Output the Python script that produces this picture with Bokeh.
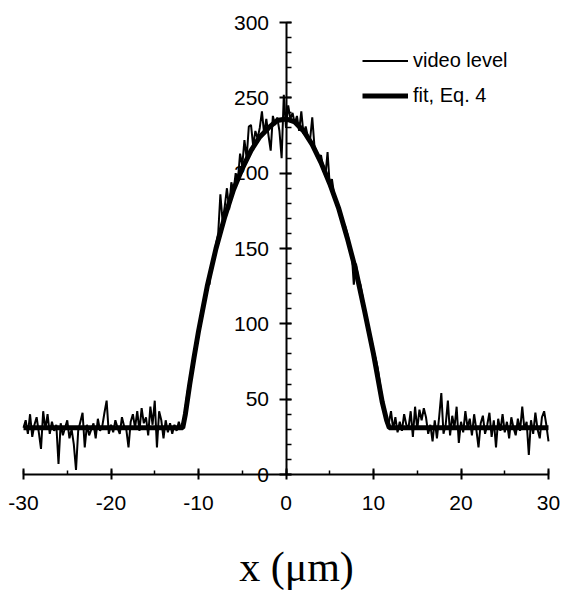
import numpy as np
from bokeh.plotting import figure
from bokeh.models import (Range1d, SingleIntervalTicker, Legend, LegendItem,
                          PrintfTickFormatter, Label)
from bokeh.embed import file_html
from bokeh.resources import INLINE

# ---- data ----
# video level sampled every 0.25 um from -30 to 30
x_video = np.arange(-30, 30.001, 0.25)
video_level = [
    31, 36, 27, 40,   25, 33, 38, 28,   17, 42, 30, 40,   27, 35, 29, 33,
    7, 34, 26, 31,    36, 24, 30, 20,   3, 29, 35, 41,    18, 33, 26, 30,
    34, 24, 37, 29,   32, 41, 49, 27,   33, 28, 36, 31,   27, 38, 32, 30,
    18, 35, 40, 31,   42, 29, 44, 34,   38, 26, 45, 33,   49, 18, 42, 36,
    24, 36, 28, 34,   27, 33, 29, 35,   30, 33, 44, 55,   62, 68, 80, 86,
    97, 100, 112, 118, 128, 126, 140, 142, 153, 160, 186, 168, 178, 190, 176, 194,
    188, 200, 195, 213, 205, 222, 210, 231, 232, 218, 228, 223, 230, 241, 226, 236,
    225, 215, 238, 232, 237, 228, 210, 252, 230, 245, 236, 240, 233, 238, 228, 241,
    226, 231, 224, 222, 237, 218, 214, 210, 212, 204, 198, 214, 192, 196, 186, 182,
    177, 174, 168, 165, 160, 153, 148, 126, 140, 130, 126, 118, 108, 103, 96, 90,
    82, 77, 70, 60,   50, 43, 37, 34,   42, 30, 38, 28,   35, 29, 40, 33,
    31, 42, 25, 45,   30, 43, 36, 44,   38, 27, 33, 22,   36, 24, 38, 54,
    27, 33, 49, 26,   39, 31, 45, 21,   35, 28, 42, 31,   37, 26, 40, 30,
    18, 34, 39, 27,   33, 41, 25, 36,   18, 37, 29, 40,   28, 35, 24, 38,
    31, 26, 37, 29,   45, 30, 35, 13,   36, 27, 41, 30,   24, 38, 42, 33,
    22,
]

# fitted profile (Eq. 4)
fit_x = [-30, -11.8, -11.5, -11, -10.5, -10, -9.5, -9, -8, -7, -6, -5, -4, -3, -2, -1, 0,
         1, 2, 3, 4, 5, 6, 7, 8, 9, 10, 10.5, 11, 11.5, 11.8, 30]
fit_y = [31, 31, 40, 60, 78, 95, 110, 125, 150, 171, 189, 203, 215, 224, 230, 235, 236,
         234, 228, 219, 207, 193, 177, 157, 135, 108, 80, 64, 48, 36, 31, 31]

legend_labels = ["video level", "fit, Eq. 4"]
x_title = "x (\u03bcm)"

# ---- layout geometry (pixels) ----
W, H = 562, 594
left_px, right_px = 23, 548          # x = -30 .. 30
top_px, zero_px = 22, 474            # y = 300 .. 0
frame_top, frame_bottom = 6, H       # frame covers the page so axis labels are not clipped
title_cx, title_cy = 296, 566        # centre of the axis title
xscale = (right_px - left_px) / 60.0
yscale = (zero_px - top_px) / 300.0
x_start = -30 - left_px / xscale
x_end = 30 + (W - right_px) / xscale
y_end = 300 + (top_px - frame_top) / yscale
y_start = -(frame_bottom - zero_px) / yscale

p = figure(width=W, height=H, output_backend="svg", toolbar_location=None,
           x_range=Range1d(x_start, x_end), y_range=Range1d(y_start, y_end),
           min_border_left=0, min_border_right=0,
           min_border_top=frame_top, min_border_bottom=H - frame_bottom)
p.outline_line_color = None
p.xgrid.visible = False
p.ygrid.visible = False
p.background_fill_color = "white"
p.border_fill_color = "white"

r_video = p.line(x_video, video_level, line_color="black", line_width=2)
r_fit = p.line(fit_x, fit_y, line_color="black", line_width=5)

fmt = PrintfTickFormatter(format="%d")

# x axis drawn at y = 0
xa = p.xaxis[0]
xa.fixed_location = 0
xa.bounds = (-30, 30)
xa.ticker = SingleIntervalTicker(interval=10, num_minor_ticks=2)
xa.formatter = fmt
xa.axis_line_width = 2
xa.axis_line_color = "black"
xa.major_tick_in = 6
xa.major_tick_out = 5
xa.major_tick_line_width = 2
xa.minor_tick_in = 4
xa.minor_tick_out = 0
xa.minor_tick_line_width = 1.5
xa.major_label_text_font = "Liberation Sans"
xa.major_label_text_font_size = "21px"
xa.major_label_text_color = "black"
xa.major_label_standoff = 16

# axis title below the plot
title = Label(x=x_start + title_cx / xscale, y=-(title_cy - zero_px) / yscale,
              text=x_title, text_align="center", text_baseline="middle",
              text_font="Liberation Serif", text_font_size="42px",
              text_color="black")
p.add_layout(title)

# y axis drawn at x = 0
ya = p.yaxis[0]
ya.fixed_location = 0
ya.bounds = (0, 300)
ya.ticker = SingleIntervalTicker(interval=50, num_minor_ticks=5)
ya.formatter = fmt
ya.axis_line_width = 2
ya.axis_line_color = "black"
ya.major_tick_in = 5
ya.major_tick_out = 7
ya.major_tick_line_width = 2
ya.minor_tick_in = 5
ya.minor_tick_out = 0
ya.minor_tick_line_width = 1.5
ya.major_label_text_font = "Liberation Sans"
ya.major_label_text_font_size = "21px"
ya.major_label_text_color = "black"
ya.major_label_standoff = 10

legend = Legend(items=[LegendItem(label=legend_labels[0], renderers=[r_video]),
                       LegendItem(label=legend_labels[1], renderers=[r_fit])],
                location=(362, 406 + (H - 514)), orientation="vertical")
legend.border_line_color = None
legend.background_fill_alpha = 0
legend.padding = 0
legend.margin = 0
legend.spacing = 10
legend.glyph_width = 46
legend.glyph_height = 25
legend.label_height = 25
legend.label_standoff = 5
legend.label_text_font = "Liberation Sans"
legend.label_text_font_size = "20px"
legend.label_text_color = "black"
p.add_layout(legend)

open("out.html", "w").write(file_html(p, INLINE))
